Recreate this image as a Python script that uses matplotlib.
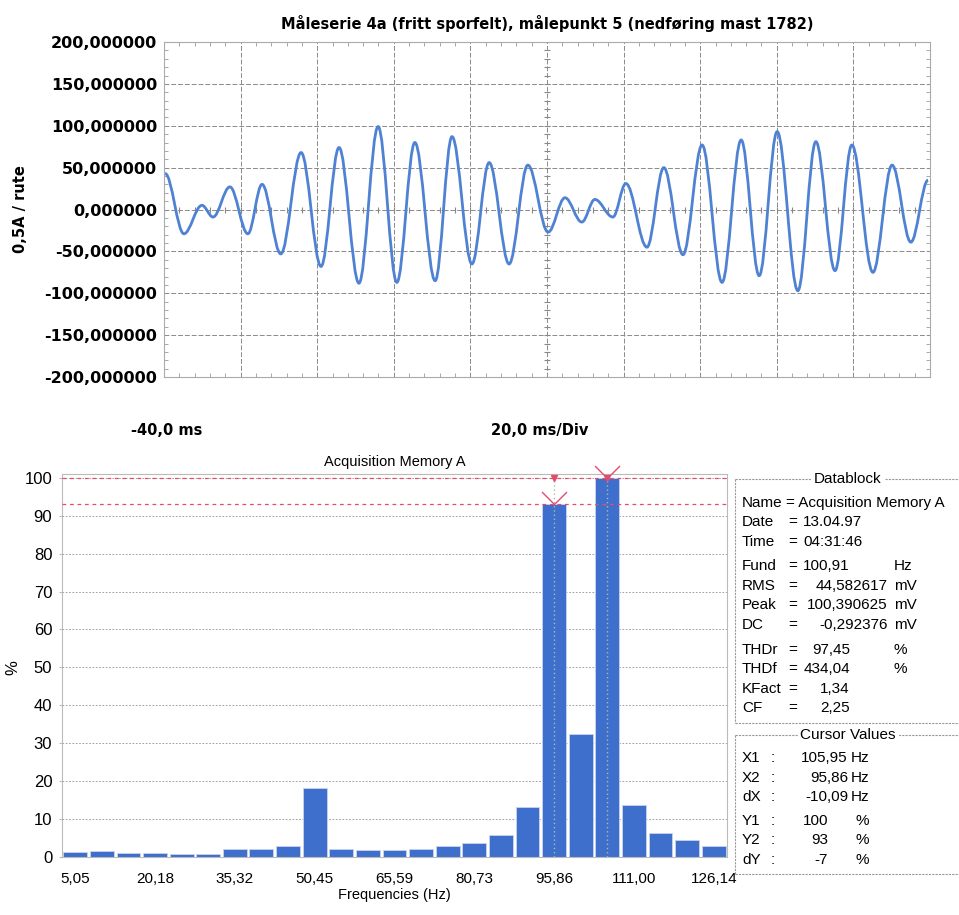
import numpy as np
import matplotlib
matplotlib.use("Agg")
import matplotlib.pyplot as plt
from matplotlib.ticker import MultipleLocator
from matplotlib.lines import Line2D
from matplotlib.path import Path
from matplotlib.patches import PathPatch

# ---- waveform (top): extrema, time in ms ----
wave_t_ms = [-39.7, -34.8, -30.1, -27.2, -22.8, -18.1, -14.4, -9.5, -4.2, 1.0,
             5.7, 10.9, 15.9, 20.8, 25.5, 30.8, 35.2, 40.4, 44.9, 50.1,
             55.0, 60.3, 64.7, 69.1, 72.5, 77.2, 80.6, 86.1, 90.5, 95.5,
             100.5, 105.7, 110.7, 115.4, 120.1, 125.5, 130.2, 135.2, 139.6, 145.1,
             150.1, 155.0, 159.5]
wave_val = [43, -29, 5, -9, 27, -29, 30, -53, 68, -68,
            74, -88, 99, -87, 80, -85, 87, -65, 56, -65,
            53, -27, 14, -15, 12, -9, 31, -45, 50, -54,
            77, -87, 83, -79, 93, -97, 81, -73, 77, -75,
            53, -39, 35]

# ---- spectrum (bottom) ----
freqs = [5.05, 10.09, 15.14, 20.18, 25.23, 30.27, 35.32, 40.36, 45.41, 50.45,
         55.50, 60.54, 65.59, 70.64, 75.68, 80.73, 85.77, 90.82, 95.86, 100.91,
         105.95, 111.00, 116.04, 121.09, 126.14]
pct = [1.2, 1.6, 1.1, 1.1, 0.9, 0.9, 2.0, 2.0, 2.8, 18.2,
       2.2, 1.8, 1.8, 2.2, 2.8, 3.8, 5.9, 13.2, 93.0, 32.4,
       100.0, 13.6, 6.4, 4.5, 2.9]

cursor_x = [105.95, 95.86]
cursor_y = [100, 93]

db_labels = ["Date", "Time", "Fund", "RMS", "Peak", "DC", "THDr", "THDf", "KFact", "CF"]
db_values = ["13.04.97", "04:31:46", "100,91", "44,582617", "100,390625", "-0,292376",
             "97,45", "434,04", "1,34", "2,25"]
db_units = ["", "", "Hz", "mV", "mV", "mV", "%", "%", "", ""]


def comma(v, nd):
    return f"{v:.{nd}f}".replace(".", ",")


W, H = 959, 915
fig = plt.figure(figsize=(W / 100, H / 100), dpi=100)


def fx(x):
    return x / W


def fy(y):
    return 1 - y / H


top_font = dict(family="DejaVu Sans", fontweight="bold")
low_font = dict(family="Liberation Sans")

# ================= top: scope trace =================
ax = fig.add_axes([fx(164), fy(377), fx(930) - fx(164), fy(42) - fy(377)])

# smooth curve through the read extrema (flat tangents at each turning point)
verts = [(wave_t_ms[0], wave_val[0])]
codes = [Path.MOVETO]
for (t0, v0), (t1, v1) in zip(zip(wave_t_ms[:-1], wave_val[:-1]),
                              zip(wave_t_ms[1:], wave_val[1:])):
    d = (t1 - t0) * 0.36
    verts += [(t0 + d, v0), (t1 - d, v1), (t1, v1)]
    codes += [Path.CURVE4] * 3
ax.add_patch(PathPatch(Path(verts, codes), facecolor="none", edgecolor="#4f82d2",
                       lw=2.0, zorder=3))

ax.set_xlim(-40, 160)
ax.set_ylim(-200, 200)
ax.set_xticks(np.arange(-40, 161, 20))
ax.set_xticklabels([])
yt = np.arange(-200, 201, 50)
ax.set_yticks(yt)
ax.set_yticklabels([comma(v, 6) for v in yt], fontsize=11.5, **top_font)
ax.xaxis.set_minor_locator(MultipleLocator(4))
ax.yaxis.set_minor_locator(MultipleLocator(10))
ax.tick_params(which="major", length=0, pad=5)
ax.tick_params(which="minor", direction="in", length=3, color="#999999",
               top=True, right=True)
ax.grid(True, color="#8a8a8a", lw=0.7, ls=(0, (5, 2)))
for s in ax.spines.values():
    s.set_color("#aaaaaa")
    s.set_linewidth(0.8)
# crosshair ticks on the centre lines
xm = np.arange(-40, 161, 4)
ax.plot(xm, np.zeros_like(xm), ls="none", marker="|", ms=5, color="#888888", mew=0.8)
ym = np.arange(-200, 201, 10)
ax.plot(np.full_like(ym, 60), ym, ls="none", marker="_", ms=5, color="#888888", mew=0.8)
ax.set_title("Måleserie 4a (fritt sporfelt), målepunkt 5 (nedføring mast 1782)",
             fontsize=10.5, pad=9, **top_font)
ax.set_ylabel("0,5A / rute", fontsize=10.5, labelpad=12, **top_font)

fig.text(fx(167), fy(430), "-40,0 ms", ha="center", va="center", fontsize=10.5, **top_font)
fig.text(fx(540), fy(430), "20,0 ms/Div", ha="center", va="center", fontsize=10.5, **top_font)

# ================= bottom: spectrum =================
bx = fig.add_axes([fx(62), fy(857), fx(727) - fx(62), fy(474) - fy(857)])
step = freqs[1] - freqs[0]
bx.bar(freqs, pct, width=step * 0.9, color="#3e6fcd", edgecolor="#c8d4ea",
       linewidth=0.6, zorder=2)
bx.set_xlim(freqs[0] - step / 2, freqs[-1] + step / 2)
bx.set_ylim(0, 101)
bx.set_yticks(np.arange(0, 101, 10))
bx.set_yticklabels([str(v) for v in range(0, 101, 10)], fontsize=12, **low_font)
bx.set_xticks(freqs[::3])
bx.set_xticklabels([comma(f, 2) for f in freqs[::3]], fontsize=11, **low_font)
bx.tick_params(axis="x", length=0, pad=11)
bx.tick_params(axis="y", length=2, color="#bbbbbb", pad=5)
bx.grid(True, axis="y", color="#8f8f8f", lw=0.6, ls=(0, (2, 2)), zorder=0)
for s in bx.spines.values():
    s.set_color("#bbbbbb")
    s.set_linewidth(0.8)
    s.set_linestyle((0, (2, 1)))
bx.set_title("Acquisition Memory A", fontsize=10.5, pad=6, **low_font)
bx.set_xlabel("Frequencies (Hz)", fontsize=10.5, labelpad=1, **low_font)
fig.text(fx(13), fy(668), "%", rotation=90, ha="center", va="center",
         fontsize=12, **low_font)

# cursors
red = "#e44d6a"
for cy in cursor_y:
    bx.axhline(cy, color=red, lw=0.9, ls=(0, (3, 3)), zorder=3)
for cx in cursor_x:
    bx.plot([cx, cx], [0, cursor_y[0]], color="#a8c0a0", lw=1.0, ls=(0, (1, 2)), zorder=3)
    bx.plot(cx, cursor_y[0], marker="v", ms=5, color=red, zorder=5, clip_on=False)
vee = [(-1, 1), (0, 0), (1, 1)]
for cx, cy in zip(cursor_x, cursor_y):
    bx.plot(cx, cy, marker=vee, ms=18, mfc="none", mec=red, mew=1.0, zorder=5,
            clip_on=False)

# ================= right: datablock =================
gray = "#999999"


def hline(y, x0, x1):
    fig.add_artist(Line2D([fx(x0), fx(x1)], [fy(y), fy(y)], color=gray, lw=0.8,
                          ls=(0, (2, 1))))


def vline(x, y0, y1):
    fig.add_artist(Line2D([fx(x), fx(x)], [fy(y0), fy(y1)], color=gray, lw=0.8,
                          ls=(0, (2, 1))))


txt = dict(fontsize=11, va="center", **low_font)
hline(479, 735, 959)
vline(735, 479, 723)
hline(723, 735, 959)
fig.text(fx(848), fy(479), "Datablock", ha="center",
         bbox=dict(facecolor="white", edgecolor="none", pad=2), **txt)
fig.text(fx(742), fy(503), "Name", ha="left", **txt)
fig.text(fx(786), fy(503), "= Acquisition Memory A", ha="left", **txt)

y = 522
for lab, val, unit in zip(db_labels, db_values, db_units):
    if lab in ("Fund", "THDr"):
        y += 5
    fig.text(fx(742), fy(y), lab, ha="left", **txt)
    fig.text(fx(788), fy(y), "=", ha="left", **txt)
    if "," in val:
        nd = len(val.split(",")[1])
        fig.text(fx(831 + 9.4 * nd), fy(y), val, ha="right", **txt)
    else:
        fig.text(fx(803), fy(y), val, ha="left", **txt)
    if unit:
        fig.text(fx(894), fy(y), unit, ha="left", **txt)
    y += 19.6

hline(735, 735, 959)
vline(735, 735, 874)
hline(874, 735, 959)
fig.text(fx(848), fy(735), "Cursor Values", ha="center",
         bbox=dict(facecolor="white", edgecolor="none", pad=2), **txt)

dx = cursor_x[1] - cursor_x[0]
dy = cursor_y[1] - cursor_y[0]
cur_rows = [("X1", comma(cursor_x[0], 2), "Hz"), ("X2", comma(cursor_x[1], 2), "Hz"),
            ("dX", comma(dx, 2), "Hz"), ("Y1", str(cursor_y[0]), "%"),
            ("Y2", str(cursor_y[1]), "%"), ("dY", str(dy), "%")]
y = 758
for lab, val, unit in cur_rows:
    if lab == "Y1":
        y += 4
    fig.text(fx(742), fy(y), lab, ha="left", **txt)
    fig.text(fx(771), fy(y), ":", ha="left", **txt)
    if unit == "Hz":
        fig.text(fx(848), fy(y), val, ha="right", **txt)
        fig.text(fx(851), fy(y), unit, ha="left", **txt)
    else:
        fig.text(fx(828), fy(y), val, ha="right", **txt)
        fig.text(fx(856), fy(y), unit, ha="left", **txt)
    y += 19.6

fig.savefig("out.png", dpi=100)
